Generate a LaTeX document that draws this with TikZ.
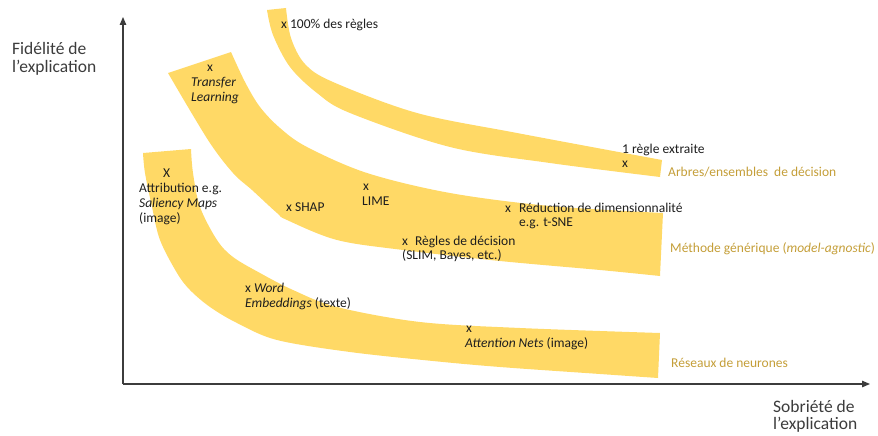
\documentclass[tikz,border=0pt]{standalone}
\usepackage{fontspec}
\setmainfont{Carlito}
\usetikzlibrary{arrows.meta}
\definecolor{bandcol}{RGB}{255,217,102}
\definecolor{goldtxt}{RGB}{196,158,56}
\definecolor{txt}{RGB}{30,30,30}
\definecolor{axiscol}{RGB}{60,60,60}
\tikzset{
  band/.style={fill=bandcol, draw=none},
  lbl/.style={anchor=base west, inner sep=0pt, text=txt, font=\fontsize{13.5}{15}\selectfont},
  glbl/.style={anchor=base west, inner sep=0pt, text=goldtxt, font=\fontsize{13.5}{15}\selectfont},
  axlbl/.style={anchor=base west, inner sep=0pt, text=axiscol, font=\fontsize{17.5}{19}\selectfont},
  axisline/.style={draw=axiscol, line width=1.3pt, -{Triangle[length=8pt,width=6.5pt]}}
}
\begin{document}
\begin{tikzpicture}[x=1pt,y=-1pt]
\useasboundingbox (0,0) rectangle (878,436);
% bands
\fill[band] plot[smooth, tension=0.55] coordinates {(286,8) (291,38) (305,64) (333,82) (417,113) (517,133) (662,160)}
  -- plot[smooth, tension=0.55] coordinates {(660,177) (550,163) (450,147) (350,113) (317,93) (290,67) (273,35) (267,10)} -- cycle;
\fill[band] plot[smooth, tension=0.55] coordinates {(231,52) (245,82) (260,107) (280,128) (307,147) (367,173) (450,193) (550,206) (663,213)}
  -- plot[smooth, tension=0.55] coordinates {(660,276) (600,270) (500,261) (403,250) (337,240) (287,220) (277,213) (252,190) (233,173) (208,140) (168,73)} -- cycle;
\fill[band] plot[smooth, tension=0.55] coordinates {(191,149) (193,173) (200,207) (217,240) (233,257) (260,273) (293,290) (337,307) (420,322) (520,328) (660,333)}
  -- plot[smooth, tension=0.55] coordinates {(658,378) (600,374) (500,367) (433,361) (350,352) (277,340) (237,323) (210,307) (190,290) (177,273) (160,240) (152,207) (145,173) (143,153)} -- cycle;
% axes
\coordinate (origin) at (123,384);
\coordinate (ytip) at (123,17);
\coordinate (xtip) at (870,384);
\draw[axisline] (origin) -- (ytip);
\draw[axisline] (origin) -- (xtip);
% axis labels
\node[axlbl] (yl1) at (12,55) {Fidélité de};
\node[axlbl] (yl2) at (12,73) {l’explication};
\node[axlbl] (xl1) at (773,412) {Sobriété de};
\node[axlbl] (xl2) at (773,429) {l’explication};
% band 1 labels
\node[lbl] (r100) at (281,29) {x 100\% des règles};
\node[lbl] (r1a) at (622,153) {1 règle extraite};
\node[lbl] (r1b) at (622,167) {x};
\node[glbl] (arbres) at (668,176) {Arbres/ensembles\ \ de décision};
% band 2 labels
\node[lbl] (tlx) at (207,71) {x};
\node[lbl] (tl1) at (191,86) {\itshape Transfer};
\node[lbl] (tl2) at (191,101) {\itshape Learning};
\node[lbl] (shap) at (286,211) {x SHAP};
\node[lbl] (limex) at (363,190) {x};
\node[lbl] (lime) at (362,205) {LIME};
\node[lbl] (red1) at (505,212) {x\hspace{8pt}Réduction de dimensionnalité};
\node[lbl] (red2) at (519,226) {e.g. t-SNE};
\node[lbl] (reg1) at (402,245) {x\hspace{7pt}Règles de décision};
\node[lbl] (reg2) at (402,259) {(SLIM, Bayes, etc.)};
\node[glbl] (methode) at (670,252) {Méthode générique (\textit{model-agnostic})};
% band 3 labels
\node[lbl] (attx) at (163,177) {X};
\node[lbl] (att1) at (139,192) {Attribution e.g.};
\node[lbl] (att2) at (139,207) {\itshape Saliency Maps};
\node[lbl] (att3) at (139,222) {(image)};
\node[lbl] (word1) at (245,292) {x \textit{Word}};
\node[lbl] (word2) at (245,307) {\textit{Embeddings} (texte)};
\node[lbl] (attnx) at (466,332) {x};
\node[lbl] (attn) at (465,347) {\textit{Attention Nets} (image)};
\node[glbl] (reseaux) at (671,367) {Réseaux de neurones};
\end{tikzpicture}
\end{document}
